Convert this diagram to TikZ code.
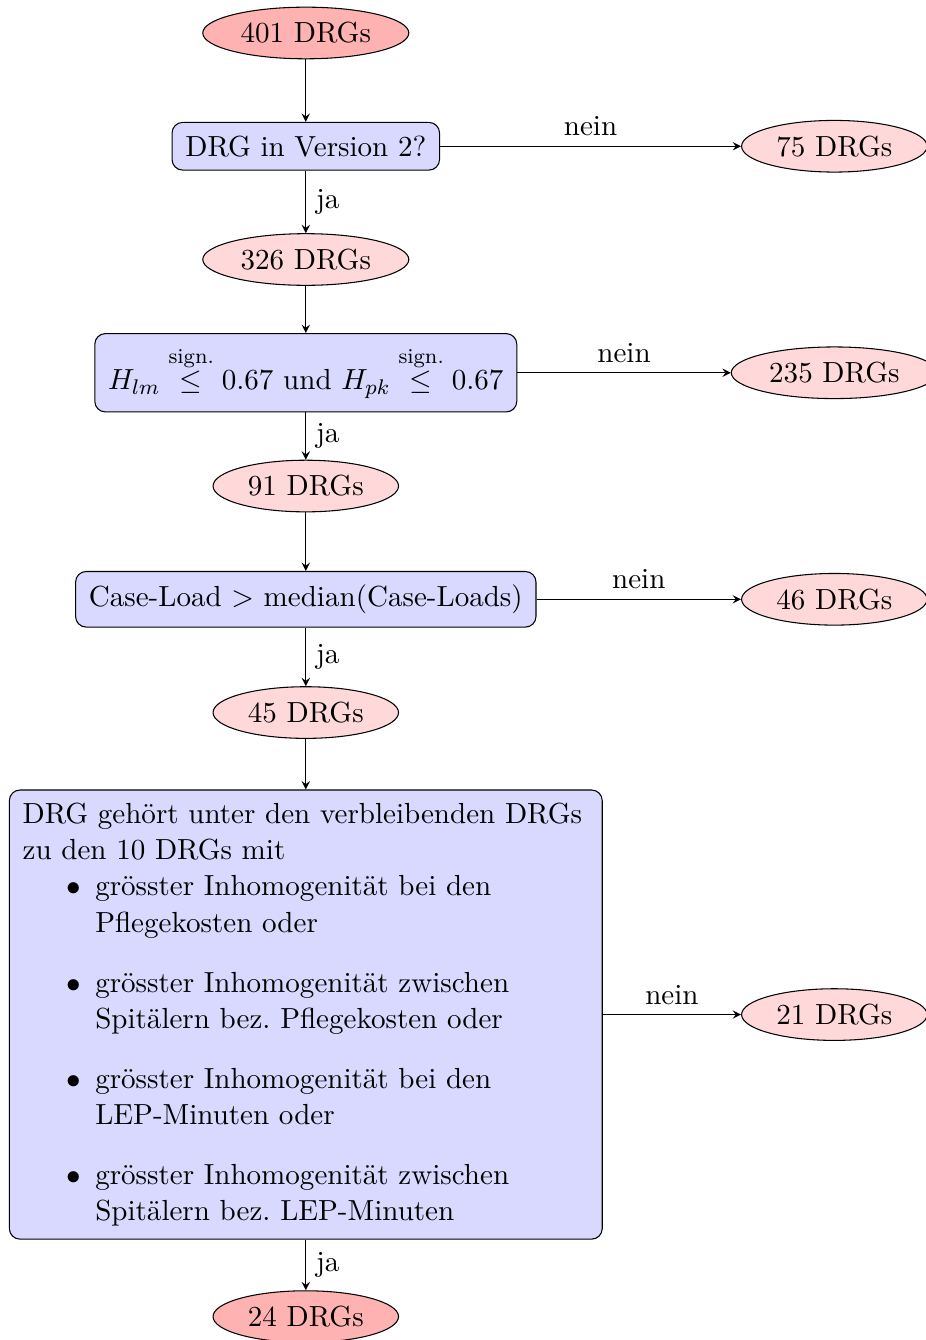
\documentclass[tikz,border=0pt,11pt]{standalone}
\usepackage{amsmath}
\usepackage{enumitem}
\usetikzlibrary{positioning}
\usetikzlibrary{shapes.geometric}

\begin{document}
\begin{tikzpicture}[-> , >= stealth, line width =0.4 pt,
    node distance=1.5 cm,
    drg/.style={ellipse, draw, fill=red!15, inner sep=2.9pt},
    drgend/.style={ellipse, draw, fill=red!30, inner sep=2.9pt},
    check/.style={rectangle, rounded corners, draw, fill=blue!15, inner sep=5pt}]
        \useasboundingbox (-4.05,0.437) rectangle (8.21,-17.31);

        \node [drgend] (n401) {401 DRGs};
        \node [check, below of=n401] (version) {DRG in Version 2?};
        \node [drg, below of=version] (n326) {326 DRGs};
        \node [check, below of=n326] (homog) {$H_{lm} \stackrel{\text{sign.}}{\leq} 0.67$ und $H_{pk} \stackrel{\text{sign.}}{\leq} 0.67$};
        \node [drg, below of=homog] (n91) {91 DRGs};
        \node [check, below of=n91] (caseload) {Case-Load $>$ median(Case-Loads)};
        \node [drg, below of=caseload] (n45) {45 DRGs};
        \node [check, text width=7.5cm, align=left, below of=n45, node distance=4cm] (topten) {DRG gehört unter den verbleibenden DRGs zu den 10 DRGs mit
            \begin{itemize}[topsep=0pt, partopsep=0pt, label=$\bullet$]
                \item grösster Inhomogenität bei den Pflegekosten oder
                \item grösster Inhomogenität zwischen Spitälern bez.\ Pflegekosten oder
                \item grösster Inhomogenität bei den LEP-Minuten oder
                \item grösster Inhomogenität zwischen Spitälern bez.\ LEP-Minuten
            \end{itemize}};
        \node [drgend, below of=topten, node distance=4cm] (n24) {24 DRGs};

        \node [drg, right of=version, node distance=7cm] (n75) {75 DRGs};
        \node [drg, right of=homog, node distance=7cm] (n235) {235 DRGs};
        \node [drg, right of=caseload, node distance=7cm] (n46) {46 DRGs};
        \node [drg, right of=topten, node distance=7cm] (n21) {21 DRGs};

        \path (n401) edge (version);
        \path (version) edge node[right]{ja} (n326);
        \path (n326) edge (homog);
        \path (homog) edge node[right]{ja} (n91);
        \path (n91) edge (caseload);
        \path (caseload) edge node[right]{ja} (n45);
        \path (n45) edge (topten);
        \path (topten) edge node[right]{ja} (n24);

        \path (version) edge node[above]{nein} (n75);
        \path (homog) edge node[above]{nein} (n235);
        \path (caseload) edge node[above]{nein} (n46);
        \path (topten) edge node[above]{nein} (n21);
    \end{tikzpicture}
\end{document}
